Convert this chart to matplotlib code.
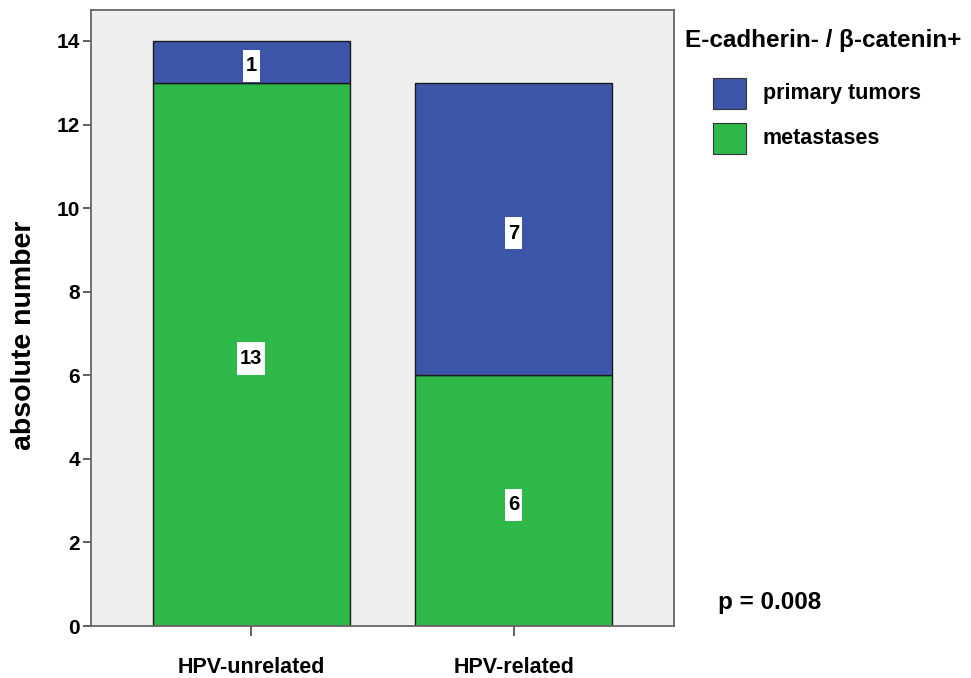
import matplotlib
matplotlib.use("Agg")
import matplotlib.pyplot as plt
from matplotlib.patches import Rectangle
from matplotlib.path import Path

categories = ["HPV-unrelated", "HPV-related"]
metastases = [13, 6]
primary_tumors = [1, 7]
yticks = [0, 2, 4, 6, 8, 10, 12, 14]

plt.rcParams['font.family'] = ['Liberation Sans', 'DejaVu Sans']
plt.rcParams['font.weight'] = 'bold'

W, H = 971, 678
fig = plt.figure(figsize=(W / 100, H / 100), dpi=100)
ax = fig.add_axes([91 / W, 1 - 626 / H, (674 - 91) / W, (626 - 10) / H])
ax.set_facecolor('#EFEFEF')

blue = '#3D55A9'
green = '#2EB84A'
x = list(range(len(categories)))
ax.bar(x, metastases, width=0.75, color=green, edgecolor='#1a1a1a', linewidth=1.0, zorder=2)
ax.bar(x, primary_tumors, width=0.75, bottom=metastases, color=blue, edgecolor='#1a1a1a', linewidth=1.0, zorder=2)


def tall_box(x0, y0, width, height, mutation_size):
    px = 0.14 * mutation_size
    py = 0.33 * mutation_size
    x0, y0 = x0 - px, y0 - py
    x1, y1 = x0 + width + 2 * px, y0 + height + 2 * py
    return Path([(x0, y0), (x1, y0), (x1, y1), (x0, y1), (x0, y0)], closed=True)


box = dict(boxstyle=tall_box, facecolor='white', edgecolor='none')
for i in x:
    ax.annotate(str(metastases[i]), (i, metastases[i] / 2), xytext=(0, -3),
                textcoords='offset points', ha='center', va='center',
                fontsize=14.5, fontweight='bold', bbox=box, zorder=3)
    ax.annotate(str(primary_tumors[i]), (i, metastases[i] + primary_tumors[i] / 2), xytext=(0, -3),
                textcoords='offset points', ha='center', va='center',
                fontsize=14.5, fontweight='bold', bbox=box, zorder=3)

ax.set_xlim(-0.611, 1.61)
ax.set_ylim(0, 14.74)
ax.set_yticks(yticks)
ax.set_yticklabels([str(t) for t in yticks], fontsize=15, fontweight='bold')
ax.set_xticks(x)
ax.set_xticklabels(categories, fontsize=15.5, fontweight='bold')
ax.tick_params(axis='x', length=7, width=1.2, color='#444444', pad=15)
ax.tick_params(axis='y', length=6, width=1.2, color='#444444', pad=2)
for s in ax.spines.values():
    s.set_color('#666666')
    s.set_linewidth(1.3)
ax.set_ylabel('absolute number', fontsize=20.5, fontweight='bold', va='center')
ax.yaxis.set_label_coords((24 - 91) / 583, (626 - 335) / 616)

# legend
fig.text(685 / W, 1 - 41 / H, 'E-cadherin- / β-catenin+', fontsize=17.5, fontweight='bold',
         ha='left', va='center')
labels = ['primary tumors', 'metastases']
colors = [blue, green]
tops = [78, 123]
for lab, col, t in zip(labels, colors, tops):
    fig.patches.append(Rectangle((713 / W, 1 - (t + 31) / H), 33 / W, 31 / H,
                                 transform=fig.transFigure, facecolor=col,
                                 edgecolor='#333333', linewidth=0.8))
    fig.text(763 / W, 1 - (t + 15) / H, lab, fontsize=15.5, fontweight='bold',
             ha='left', va='center')

fig.text(718 / W, 1 - 603 / H, 'p = 0.008', fontsize=17.5, fontweight='bold', ha='left', va='center')

fig.savefig('out.png', dpi=100, facecolor='white')
